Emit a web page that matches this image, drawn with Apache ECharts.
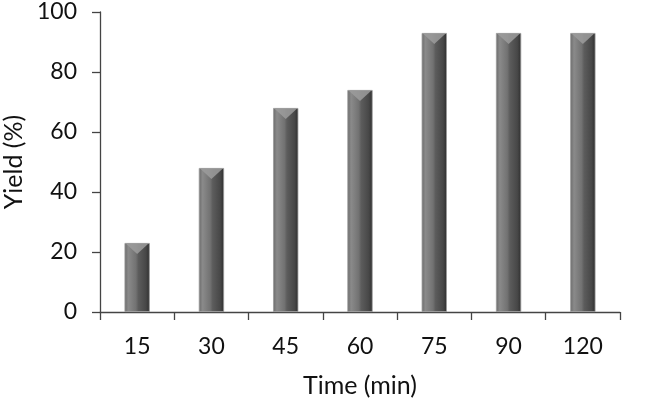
<!DOCTYPE html>
<html>
<head>
    <meta charset="utf-8">
    <title>Yield vs Time</title>
    <script src="https://cdn.jsdelivr.net/npm/echarts@6/dist/echarts.min.js"></script>
    <style>
        html, body { margin: 0; padding: 0; background: #fff; }
        #chart { width: 661px; height: 402px; }
    </style>
</head>
<body>
    <div id="chart"></div>
    <script type="text/javascript">
        var times = ['15', '30', '45', '60', '75', '90', '120'];
        var yields = [23, 48, 68, 74, 93, 93, 93];
        var yTicks = { min: 0, max: 100, step: 20 };

        var font = 'Lato';
        var chart = echarts.init(document.getElementById('chart'), null, { renderer: 'canvas' });

        // bar fill: vertical bevel look, lighter left face, dark right face
        var barFill = new echarts.graphic.LinearGradient(0, 0, 1, 0, [
            { offset: 0, color: '#6a6a6a' },
            { offset: 0.15, color: '#8a8a8a' },
            { offset: 0.45, color: '#727272' },
            { offset: 0.55, color: '#5c5c5c' },
            { offset: 0.85, color: '#474747' },
            { offset: 1, color: '#2e2e2e' }
        ]);

        var option = {
            animation: false,
            grid: { left: 100, right: 41, top: 12, bottom: 90, outerBoundsMode: 'none' },
            xAxis: {
                type: 'category',
                data: times,
                name: 'Time (min)',
                nameLocation: 'middle',
                nameGap: 61,
                nameTextStyle: { fontFamily: font, fontSize: 25, color: '#111' },
                axisLine: { lineStyle: { color: '#444', width: 1.3 } },
                axisTick: { show: true, length: 8, lineStyle: { color: '#444', width: 1.3 } },
                axisLabel: { fontFamily: font, fontSize: 23, color: '#111', margin: 23 }
            },
            yAxis: {
                type: 'value',
                min: yTicks.min,
                max: yTicks.max,
                interval: yTicks.step,
                name: 'Yield (%)',
                nameLocation: 'middle',
                nameGap: 71,
                nameTextStyle: { fontFamily: font, fontSize: 25, color: '#111' },
                axisLine: { show: true, lineStyle: { color: '#444', width: 1.3 } },
                axisTick: { show: true, length: 8, lineStyle: { color: '#444', width: 1.3 } },
                axisLabel: { fontFamily: font, fontSize: 23, color: '#111', margin: 23 },
                splitLine: { show: false }
            },
            series: [
                {
                    type: 'bar',
                    data: yields,
                    barWidth: '34%',
                    itemStyle: { color: barFill, borderColor: '#9a9a9a', borderWidth: 0.8 }
                },
                {
                    // triangular bevel at the top of each bar
                    type: 'pictorialBar',
                    data: yields,
                    symbol: 'triangle',
                    symbolRotate: 180,
                    symbolSize: [24, 11],
                    symbolPosition: 'end',
                    itemStyle: { color: '#9c9c9c', opacity: 0.85 },
                    z: 3
                }
            ]
        };
        chart.setOption(option);
    </script>
</body>
</html>
